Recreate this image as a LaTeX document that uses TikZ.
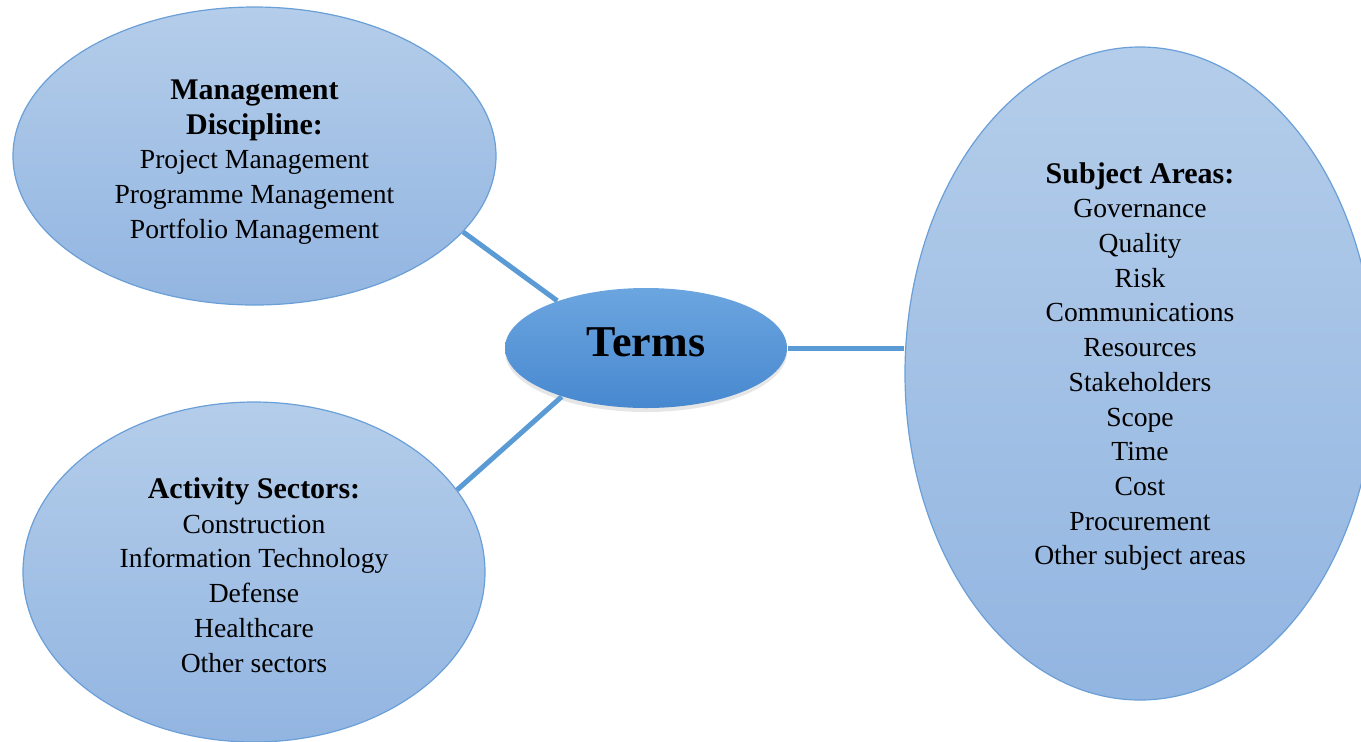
\documentclass[tikz,border=0pt]{standalone}
\usepackage{fontspec}
\setmainfont{Liberation Serif}
\usepackage{tikz}
\usetikzlibrary{shapes.geometric,shadows}

\definecolor{linkblue}{HTML}{5B9BD5}
\definecolor{rimblue}{HTML}{6A9FD8}
\definecolor{bubbletop}{HTML}{B4CDEA}
\definecolor{bubblebot}{HTML}{92B5E1}
\definecolor{termtop}{HTML}{6CA6E0}
\definecolor{termbot}{HTML}{4788CF}

\newcommand{\bubblehead}[1]{{\bfseries\fontsize{15}{17.35}\selectfont #1}}

\begin{document}
\begin{tikzpicture}[x=0.5pt,y=-0.5pt,semithick]
	\tikzstyle{bubble}=[ellipse,draw=rimblue,line width=0.6pt,top color=bubbletop,
		bottom color=bubblebot,inner sep=0pt]
	\tikzstyle{blurb}=[align=center,inner sep=0pt,font=\fontsize{13.8}{17.35}\selectfont]
	\tikzstyle{hub}=[ellipse,top color=termtop,bottom color=termbot,
		drop shadow={shadow xshift=0pt,shadow yshift=-2pt,opacity=0.2},
		minimum width=141pt,minimum height=60pt]
	\tikzstyle{link}=[draw=linkblue,line width=2.5pt]

	\useasboundingbox (0,0) rectangle (1361,741);
	\clip (0,0) rectangle (1361,741);

	\node[hub,label={[font=\bfseries\fontsize{22}{26}\selectfont,yshift=3pt]center:Terms}]
		(terms) at (646,348) {};
	\node[bubble,minimum width=241.5pt,minimum height=149pt,
		label={[blurb,yshift=-3pt]center:{\bubblehead{Management}\\\bubblehead{Discipline:}\\
		Project Management\\Programme Management\\Portfolio Management}}]
		(mgmt) at (254.5,156) {};
	\node[bubble,minimum width=231pt,minimum height=170pt,
		label={[blurb,yshift=-1.5pt]center:{\bubblehead{Activity Sectors:}\\Construction\\
		Information Technology\\Defense\\Healthcare\\Other sectors}}]
		(sectors) at (254,572) {};
	\node[bubble,minimum width=235pt,minimum height=326.5pt,
		label={[blurb,yshift=3.5pt]center:{\bubblehead{Subject Areas:}\\Governance\\Quality\\
		Risk\\Communications\\Resources\\Stakeholders\\Scope\\Time\\Cost\\Procurement\\
		Other subject areas}}]
		(areas) at (1140,373.5) {};

	\path (mgmt.-20) edge[link] (terms.152);
	\path (sectors.22) edge[link] (terms.210);
	\path (terms.east) edge[link] (terms.east -| areas.west);
\end{tikzpicture}
\end{document}
